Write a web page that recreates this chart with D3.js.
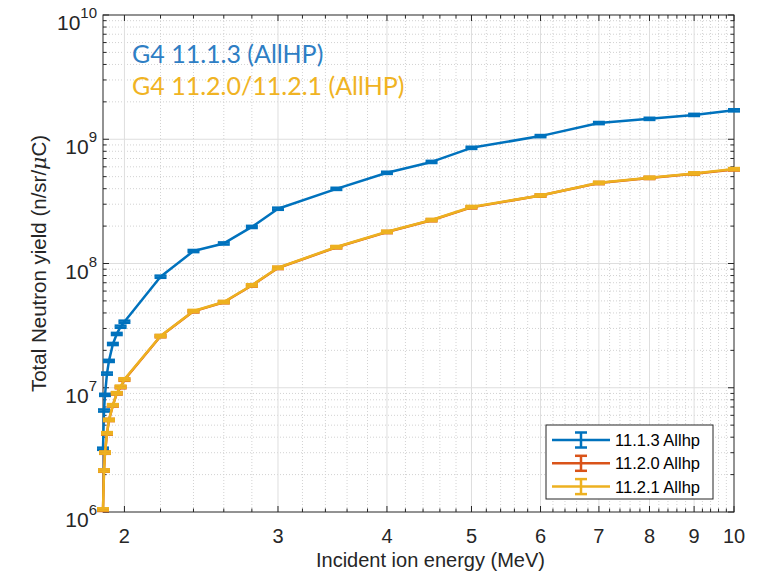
<!DOCTYPE html>
<html>
<head>
<meta charset="utf-8">
<script src="https://cdn.jsdelivr.net/npm/d3@7"></script>
<style>
  html, body { margin: 0; padding: 0; background: #fff; }
  svg { display: block; }
</style>
</head>
<body>
<svg id="chart" width="764" height="576"></svg>
<script>
// Incident ion energy grid (MeV)
const energy = [1.89, 1.895, 1.9, 1.91, 1.92, 1.94, 1.96, 1.98, 2.0, 2.2, 2.4, 2.6, 2.8, 3.0, 3.5, 4.0, 4.5, 5.0, 6.0, 7.0, 8.0, 9.0, 10.0];

// Total neutron yield (n/sr/uC) per Geant4 version, AllHP physics
const yield1113 = [3.23e6, 6.56e6, 8.77e6, 1.30e7, 1.645e7, 2.25e7, 2.71e7, 3.10e7, 3.40e7, 7.83e7, 1.26e8, 1.45e8, 1.97e8, 2.76e8, 3.99e8, 5.37e8, 6.57e8, 8.53e8, 1.06e9, 1.35e9, 1.46e9, 1.57e9, 1.71e9];
const yield1120 = [1.04e6, 2.15e6, 3.00e6, 4.28e6, 5.50e6, 7.20e6, 9.00e6, 1.01e7, 1.16e7, 2.60e7, 4.12e7, 4.88e7, 6.65e7, 9.20e7, 1.35e8, 1.79e8, 2.23e8, 2.83e8, 3.52e8, 4.44e8, 4.88e8, 5.28e8, 5.72e8];
const yield1121 = [1.05e6, 2.16e6, 3.01e6, 4.31e6, 5.52e6, 7.24e6, 9.05e6, 1.02e7, 1.17e7, 2.61e7, 4.15e7, 4.90e7, 6.68e7, 9.25e7, 1.357e8, 1.80e8, 2.24e8, 2.85e8, 3.53e8, 4.46e8, 4.90e8, 5.31e8, 5.75e8];

// Relative statistical uncertainty shown as error bars
const relErr = 0.02;

const seriesNames = ["11.1.3 Allhp", "11.2.0 Allhp", "11.2.1 Allhp"];
const seriesColors = ["#0072BD", "#D95319", "#EDB120"];
const seriesValues = [yield1113, yield1120, yield1121];

const xTickValues = [2, 3, 4, 5, 6, 7, 8, 9, 10];
const yTickExponents = [6, 7, 8, 9, 10];

const annotations = [
  { text: "G4 11.1.3 (AllHP)", color: "#2E7EC4" },
  { text: "G4 11.2.0/11.2.1 (AllHP)", color: "#F0B323" }
];

const svg = d3.select("#chart");
const plot = { left: 103, right: 734, top: 15, bottom: 512 };
const axisColor = "#262626";
const labelFont = "'Liberation Sans', Arial, Helvetica, sans-serif";

const x = d3.scaleLog().domain([1.89, 10]).range([plot.left, plot.right]);
const y = d3.scaleLog().domain([1e6, 1e10]).range([plot.bottom, plot.top]);

// Minor tick positions
const xMinor = d3.range(22, 100, 2).map(v => v / 10).filter(v => Math.abs(v - Math.round(v)) > 1e-9);
const yMinor = [];
for (let e = 6; e < 10; e++) for (let k = 2; k <= 9; k++) yMinor.push(k * Math.pow(10, e));

// Grid
const grid = svg.append("g");
grid.selectAll(".xminor").data(xMinor).join("line")
  .attr("x1", d => x(d)).attr("x2", d => x(d))
  .attr("y1", plot.top).attr("y2", plot.bottom)
  .attr("stroke", "#d2d2d2").attr("stroke-width", 1).attr("stroke-dasharray", "1,2");
grid.selectAll(".yminor").data(yMinor).join("line")
  .attr("y1", d => y(d)).attr("y2", d => y(d))
  .attr("x1", plot.left).attr("x2", plot.right)
  .attr("stroke", "#d2d2d2").attr("stroke-width", 1).attr("stroke-dasharray", "1,2");
grid.selectAll(".xmajor").data(xTickValues.slice(0, -1)).join("line")
  .attr("x1", d => x(d)).attr("x2", d => x(d))
  .attr("y1", plot.top).attr("y2", plot.bottom)
  .attr("stroke", "#dedede").attr("stroke-width", 1);
grid.selectAll(".ymajor").data(yTickExponents.slice(1, -1)).join("line")
  .attr("y1", d => y(Math.pow(10, d))).attr("y2", d => y(Math.pow(10, d)))
  .attr("x1", plot.left).attr("x2", plot.right)
  .attr("stroke", "#dedede").attr("stroke-width", 1);

// Axes box with inward ticks on all four sides
const axes = svg.append("g");
const majLen = 6, minLen = 3.5;
function xTicks(vals, len) {
  vals.forEach(v => {
    axes.append("line").attr("x1", x(v)).attr("x2", x(v)).attr("y1", plot.bottom).attr("y2", plot.bottom - len)
      .attr("stroke", axisColor).attr("stroke-width", 1);
    axes.append("line").attr("x1", x(v)).attr("x2", x(v)).attr("y1", plot.top).attr("y2", plot.top + len)
      .attr("stroke", axisColor).attr("stroke-width", 1);
  });
}
function yTicks(vals, len) {
  vals.forEach(v => {
    axes.append("line").attr("y1", y(v)).attr("y2", y(v)).attr("x1", plot.left).attr("x2", plot.left + len)
      .attr("stroke", axisColor).attr("stroke-width", 1);
    axes.append("line").attr("y1", y(v)).attr("y2", y(v)).attr("x1", plot.right).attr("x2", plot.right - len)
      .attr("stroke", axisColor).attr("stroke-width", 1);
  });
}
xTicks(xTickValues, majLen);
xTicks(xMinor, minLen);
yTicks(yTickExponents.map(e => Math.pow(10, e)), majLen);
yTicks(yMinor, minLen);
axes.append("rect")
  .attr("x", plot.left).attr("y", plot.top)
  .attr("width", plot.right - plot.left).attr("height", plot.bottom - plot.top)
  .attr("fill", "none").attr("stroke", axisColor).attr("stroke-width", 1);

// Tick labels
const tickLabels = svg.append("g").attr("fill", axisColor).attr("font-family", labelFont);
tickLabels.selectAll(".xl").data(xTickValues).join("text")
  .attr("x", d => x(d)).attr("y", plot.bottom + 31)
  .attr("text-anchor", "middle").attr("font-size", 20)
  .text(d => d);
yTickExponents.forEach(e => {
  const t = tickLabels.append("text")
    .attr("x", plot.left - 6).attr("y", y(Math.pow(10, e)) + 15)
    .attr("text-anchor", "end").attr("font-size", 21);
  t.append("tspan").text("10");
  t.append("tspan").attr("font-size", 15).attr("dy", -12).text(e);
});

// Axis titles
svg.append("text")
  .attr("x", (plot.left + plot.right) / 2 + 12).attr("y", plot.bottom + 55)
  .attr("text-anchor", "middle").attr("font-family", labelFont).attr("font-size", 20)
  .attr("fill", axisColor).text("Incident ion energy (MeV)");
const yTitle = svg.append("text")
  .attr("transform", `translate(46,${(plot.top + plot.bottom) / 2}) rotate(-90)`)
  .attr("text-anchor", "middle").attr("font-family", labelFont).attr("font-size", 20.5)
  .attr("fill", axisColor);
yTitle.append("tspan").text("Total Neutron yield (n/sr/");
yTitle.append("tspan").attr("font-style", "italic").attr("font-family", "'DejaVu Serif', serif").text("\u03BC");
yTitle.append("tspan").text("C)");

// Data series: connecting line plus vertical error bars with caps
const line = d3.line().x(d => x(d[0])).y(d => y(d[1]));
const capHalf = 6;
seriesValues.forEach((vals, i) => {
  const pts = energy.map((e, j) => [e, vals[j]]);
  const g = svg.append("g").attr("stroke", seriesColors[i]).attr("fill", "none");
  g.append("path").datum(pts).attr("d", line).attr("stroke-width", 2.5).attr("stroke-linejoin", "round");
  pts.forEach(p => {
    const cx = x(p[0]);
    const lo = y(p[1] * (1 - relErr)), hi = y(p[1] * (1 + relErr));
    g.append("line").attr("x1", cx).attr("x2", cx).attr("y1", lo).attr("y2", hi).attr("stroke-width", 2.5);
    g.append("line").attr("x1", cx - capHalf).attr("x2", cx + capHalf).attr("y1", lo).attr("y2", lo).attr("stroke-width", 2.5);
    g.append("line").attr("x1", cx - capHalf).attr("x2", cx + capHalf).attr("y1", hi).attr("y2", hi).attr("stroke-width", 2.5);
  });
});

// Legend
const legend = svg.append("g");
const lg = { x: 546, y: 425, w: 167, h: 74 };
legend.append("rect").attr("x", lg.x).attr("y", lg.y).attr("width", lg.w).attr("height", lg.h)
  .attr("fill", "#fff").attr("stroke", axisColor).attr("stroke-width", 1);
seriesNames.forEach((name, i) => {
  const cy = lg.y + 15 + i * 23.3;
  const g = legend.append("g").attr("stroke", seriesColors[i]).attr("stroke-width", 2.5);
  g.append("line").attr("x1", lg.x + 6).attr("x2", lg.x + 64).attr("y1", cy).attr("y2", cy);
  const cx = lg.x + 35;
  g.append("line").attr("x1", cx).attr("x2", cx).attr("y1", cy - 7.5).attr("y2", cy + 7.5);
  g.append("line").attr("x1", cx - capHalf).attr("x2", cx + capHalf).attr("y1", cy - 7.5).attr("y2", cy - 7.5);
  g.append("line").attr("x1", cx - capHalf).attr("x2", cx + capHalf).attr("y1", cy + 7.5).attr("y2", cy + 7.5);
  legend.append("text").attr("x", lg.x + 69).attr("y", cy + 6)
    .attr("font-family", labelFont).attr("font-size", 16.5).attr("fill", "#000").text(name);
});

// Version annotations
annotations.forEach((a, i) => {
  svg.append("text").attr("x", 132).attr("y", 63 + i * 32)
    .attr("font-family", "Lato, 'Open Sans', sans-serif").attr("font-size", 25)
    .attr("fill", a.color).text(a.text);
});
</script>
</body>
</html>
